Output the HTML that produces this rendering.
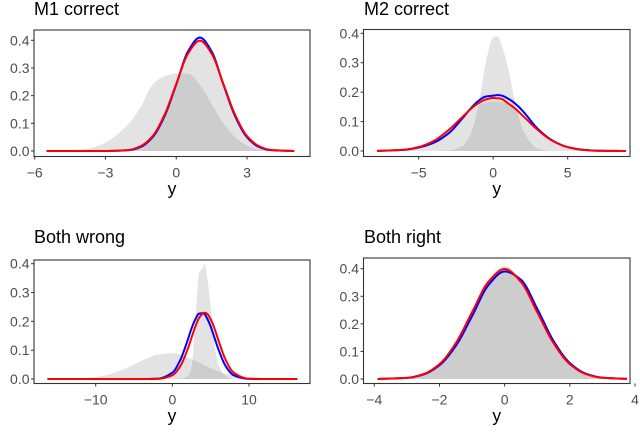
<!DOCTYPE html>
<html><head><meta charset="utf-8"><style>
html,body{margin:0;padding:0;background:#fff;}
svg{display:block;font-family:"Liberation Sans",Arial,sans-serif;}
</style></head><body>
<svg id="fig" width="640" height="434" viewBox="0 0 640 434"></svg>
<script>
// ---- data: panel titles, x grids, series values ----
const titles = ["M1 correct","M2 correct","Both wrong","Both right"];
const xTicks1 = [-6,-3,0,3];
const xTicks2 = [-5,0,5];
const xTicks3 = [-10,0,10];
const xTicks4 = [-4,-2,0,2,4];
const yTicks = [0.0,0.1,0.2,0.3,0.4];
const yTickLabels = ["0.0","0.1","0.2","0.3","0.4"];

const grid1 = [-5.5,-4,-3,-2.5,-2,-1.5,-1,-0.5,0,0.5,1,1.5,2,2.5,3,3.5,4,5];
const grayA1 = [0,0,0.0002,0.001,0.004,0.018,0.054,0.13,0.242,0.352,0.399,0.352,0.242,0.13,0.054,0.018,0.004,0];
const grayB1 = [0,0.005,0.03,0.06,0.1,0.16,0.24,0.27,0.28,0.28,0.24,0.17,0.1,0.05,0.02,0.005,0.001,0];
const blue1 = [0,0,0.0001,0.001,0.003,0.015,0.05,0.125,0.24,0.36,0.41,0.36,0.24,0.125,0.05,0.015,0.003,0];
const red1 = [0,0,0.0001,0.001,0.004,0.018,0.054,0.13,0.242,0.352,0.399,0.352,0.242,0.13,0.054,0.018,0.004,0];

const grid2 = [-7.8,-6,-5,-4,-3,-2,-1.5,-1,-0.5,0,0.3,0.5,1,1.5,2,3,4,5,6,7,8.9];
const grayA2 = [0,0,0,0,0.002,0.02,0.06,0.15,0.3,0.385,0.39,0.37,0.28,0.16,0.07,0.008,0,0,0,0,0];
const grayB2 = [0,0.003,0.01,0.03,0.06,0.11,0.135,0.155,0.165,0.168,0.168,0.167,0.16,0.14,0.11,0.065,0.03,0.012,0.003,0.001,0];
const blue2 = [0.0003,0.004,0.012,0.028,0.06,0.115,0.145,0.17,0.185,0.188,0.19,0.189,0.178,0.16,0.135,0.075,0.035,0.013,0.004,0.001,0];
const red2 = [0.0003,0.0044,0.0136,0.034,0.071,0.119,0.143,0.162,0.175,0.18,0.179,0.178,0.162,0.143,0.119,0.071,0.034,0.0136,0.0044,0.001,0];

const grid3 = [-16.3,-12,-10,-8,-6,-4,-2,0,1,2,2.5,3,3.5,4,4.2,4.5,5,5.5,6,7,8,10,12,16.3];
const grayA3 = [0,0,0,0,0,0,0,0,0.001,0.01,0.04,0.2,0.37,0.385,0.4,0.36,0.25,0.12,0.05,0.01,0,0,0,0];
const grayB3 = [0,0.002,0.007,0.018,0.038,0.063,0.084,0.089,0.085,0.075,0.069,0.063,0.057,0.05,0.047,0.043,0.038,0.032,0.027,0.018,0.012,0.004,0.001,0];
const blue3 = [0,0,0,0,0,0,0.001,0.022,0.064,0.135,0.175,0.207,0.227,0.228,0.225,0.212,0.182,0.143,0.104,0.043,0.013,0.0005,0,0];
const red3 = [0,0,0,0,0,0,0.0004,0.013,0.043,0.104,0.143,0.182,0.212,0.228,0.23,0.227,0.207,0.175,0.135,0.064,0.022,0.001,0,0];

const grid4 = [-3.9,-3,-2.5,-2,-1.5,-1,-0.5,0,0.5,1,1.5,2,2.5,3,3.75];
const grayA4 = [0.0002,0.005,0.018,0.056,0.133,0.25,0.36,0.41,0.36,0.24,0.13,0.054,0.017,0.004,0.0003];
const grayB4 = [0.0002,0.004,0.017,0.054,0.13,0.245,0.355,0.4,0.355,0.245,0.13,0.054,0.017,0.004,0.0003];
const blue4 = [0.0002,0.004,0.016,0.05,0.12,0.228,0.34,0.39,0.36,0.255,0.138,0.058,0.019,0.005,0.0004];
const red4 = [0.0002,0.0044,0.0175,0.054,0.13,0.242,0.352,0.399,0.352,0.242,0.13,0.054,0.0175,0.0044,0.0004];

// ---- layout ----
const NS="http://www.w3.org/2000/svg";
const svg=document.getElementById('fig');
function mk(tag,attrs,parent){const e=document.createElementNS(NS,tag);for(const k in attrs)e.setAttribute(k,attrs[k]);(parent||svg).appendChild(e);return e;}

const panels=[
 {box:[34,30,310,156.5], xr:[34.7,247], xv:[-6,3], y0:151, y4:40.3, ticks:xTicks1, grid:grid1, gA:grayA1,gB:grayB1,b:blue1,r:red1, tx:34, ty:15, name:"m1-correct"},
 {box:[363.5,29.5,630,156.5], xr:[418.7,567.7], xv:[-5,5], y0:151, y4:33.3, ticks:xTicks2, grid:grid2, gA:grayA2,gB:grayB2,b:blue2,r:red2, tx:364, ty:15, name:"m2-correct"},
 {box:[34,260,310,383.5], xr:[95.7,249], xv:[-10,10], y0:379, y4:263.7, ticks:xTicks3, grid:grid3, gA:grayA3,gB:grayB3,b:blue3,r:red3, tx:34, ty:243, name:"both-wrong"},
 {box:[363.5,258,630,383.5], xr:[374.3,635], xv:[-4,4], y0:379, y4:268.7, ticks:xTicks4, grid:grid4, gA:grayA4,gB:grayB4,b:blue4,r:red4, tx:364, ty:243, name:"both-right"}
];

// monotone cubic interpolation
function interp(xs,ys,n){
  const m=xs.length, d=[], s=[];
  for(let i=0;i<m-1;i++) s.push((ys[i+1]-ys[i])/(xs[i+1]-xs[i]));
  d[0]=s[0]; d[m-1]=s[m-2];
  for(let i=1;i<m-1;i++){ if(s[i-1]*s[i]<=0) d[i]=0; else { const w1=2*(xs[i+1]-xs[i])+(xs[i]-xs[i-1]), w2=(xs[i+1]-xs[i])+2*(xs[i]-xs[i-1]); d[i]=(w1+w2)/(w1/s[i-1]+w2/s[i]); } }
  const out=[];
  for(let i=0;i<m-1;i++){
    const h=xs[i+1]-xs[i];
    for(let k=0;k<n;k++){
      const t=k/n, t2=t*t, t3=t2*t;
      const y=(2*t3-3*t2+1)*ys[i]+(t3-2*t2+t)*h*d[i]+(-2*t3+3*t2)*ys[i+1]+(t3-t2)*h*d[i+1];
      out.push([xs[i]+t*h, Math.max(0,y)]);
    }
  }
  out.push([xs[m-1],ys[m-1]]);
  return out;
}

panels.forEach((p,pi)=>{
  const g=mk('g',{});
  
  
  const sx=v=>p.xr[0]+(v-p.xv[0])*(p.xr[1]-p.xr[0])/(p.xv[1]-p.xv[0]);
  const sy=v=>p.y0+(v)*(p.y4-p.y0)/0.4;
  const [x1,y1,x2,y2]=p.box;
  const t=mk('text',{x:p.tx,y:p.ty,'font-size':'18',fill:'#000'},g);
  t.textContent=titles[pi];
  
  
  [p.gA,p.gB].forEach((arr,j)=>{
    const pts=interp(p.grid,arr,12);
    let d='M'+sx(pts[0][0]).toFixed(2)+','+sy(0).toFixed(2);
    pts.forEach(q=>{d+='L'+sx(q[0]).toFixed(2)+','+sy(q[1]).toFixed(2);});
    d+='L'+sx(pts[pts.length-1][0]).toFixed(2)+','+sy(0).toFixed(2)+'Z';
    const a=mk('path',{d:d,fill:'#808080','fill-opacity':'0.22',stroke:'none'},g);
    
    
  });
  [[p.b,'#0000ff','blue-density-line'],[p.r,'#ff0000','red-density-line']].forEach(([arr,col,nm])=>{
    const pts=interp(p.grid,arr,12);
    const d='M'+pts.map(q=>sx(q[0]).toFixed(2)+','+sy(q[1]).toFixed(2)).join('L');
    const l=mk('path',{d:d,fill:'none',stroke:col,'stroke-width':'2','stroke-linejoin':'round'},g);
    
    
  });
  const fr=mk('rect',{x:x1,y:y1,width:x2-x1,height:y2-y1,fill:'none',stroke:'#333','stroke-width':'1.1'},g);
  
  
  yTicks.forEach((v,i)=>{
    const yy=sy(v);
    mk('line',{x1:x1-3,x2:x1,y1:yy,y2:yy,stroke:'#333','stroke-width':'1'},g);
    const tl=mk('text',{x:x1-4.5,y:yy+5,'font-size':'14',fill:'#4d4d4d','text-anchor':'end'},g);
    tl.textContent=yTickLabels[i];
    
    
  });
  p.ticks.forEach(v=>{
    const xx=sx(v);
    mk('line',{x1:xx,x2:xx,y1:y2,y2:y2+3,stroke:'#333','stroke-width':'1'},g);
    const tl=mk('text',{x:xx,y:y2+21,'font-size':'14',fill:'#4d4d4d','text-anchor':'middle'},g);
    tl.textContent=(v<0?'\u2212'+Math.abs(v):String(v));
    
    
  });
  const xt=mk('text',{x:(x1+x2)/2,y:y2+38,'font-size':'17.5',fill:'#000','text-anchor':'middle'},g);
  xt.textContent='y';
  
  
});
</script>
</body></html>
